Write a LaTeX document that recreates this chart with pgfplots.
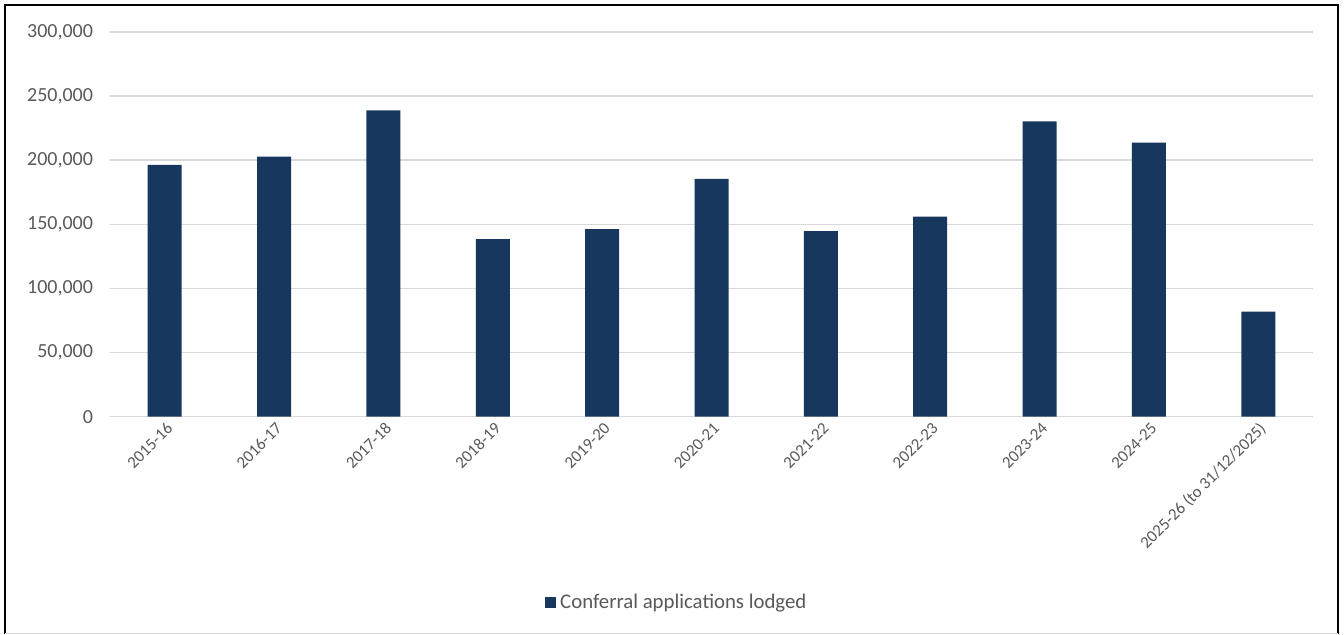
\documentclass[border=0pt]{standalone}
\usepackage{pgfplots}
\pgfplotsset{compat=1.18}
\usepackage{fontspec}
\setmainfont{Carlito}
\definecolor{barc}{HTML}{17375E}
\definecolor{gridc}{HTML}{D9D9D9}
\definecolor{txt}{HTML}{595959}
\begin{document}
\begin{tikzpicture}
\useasboundingbox (0pt,0pt) rectangle (672pt,317.5pt);
\draw[line width=1pt] (2.5pt,0.6pt) -- (2.5pt,315pt) -- (669pt,315pt) -- (669pt,0.6pt);
\draw[line width=0.6pt, gridc] (2.5pt,0.6pt) -- (669pt,0.6pt);
\begin{axis}[
  at={(55pt,109.15pt)}, anchor=south west,
  scale only axis, width=601.5pt, height=192.35pt,
  ymin=0, ymax=300000, xmin=-0.5, xmax=10.5,
  ytick={0,50000,100000,150000,200000,250000,300000},
  scaled y ticks=false,
  xtick=data,
  xticklabels={2015-16,2016-17,2017-18,2018-19,2019-20,2020-21,2021-22,2022-23,2023-24,2024-25,2025-26 (to 31/12/2025)},
  axis line style={draw=none},
  tick style={draw=none},
  ymajorgrids, grid style={gridc, line width=0.75pt},
  yticklabel={\pgfmathprintnumber[fixed, precision=0, 1000 sep={,}, assume math mode=true]{\tick}},
  yticklabel style={font=\fontsize{10}{12}\selectfont, text=txt, xshift=-5pt},
  xticklabel style={font=\fontsize{8.4}{10}\selectfont, text=txt, rotate=45, anchor=east, xshift=2pt, yshift=-5pt},
  legend style={at={(0.472,-0.484)}, anchor=center, draw=none, font=\fontsize{10.4}{12}\selectfont, text=txt, legend cell align=left},
  legend image code/.code={\fill[barc] (0pt,-2.75pt) rectangle (5.5pt,2.75pt);},
]
\addplot[ybar, bar width=17pt, fill=barc, draw=none] table {
x y
0 196400
1 202900
2 238800
3 138400
4 146300
5 185500
6 144700
7 156100
8 230200
9 213800
10 81900
};
\addlegendentry{Conferral applications lodged}
\end{axis}
\end{tikzpicture}
\end{document}
